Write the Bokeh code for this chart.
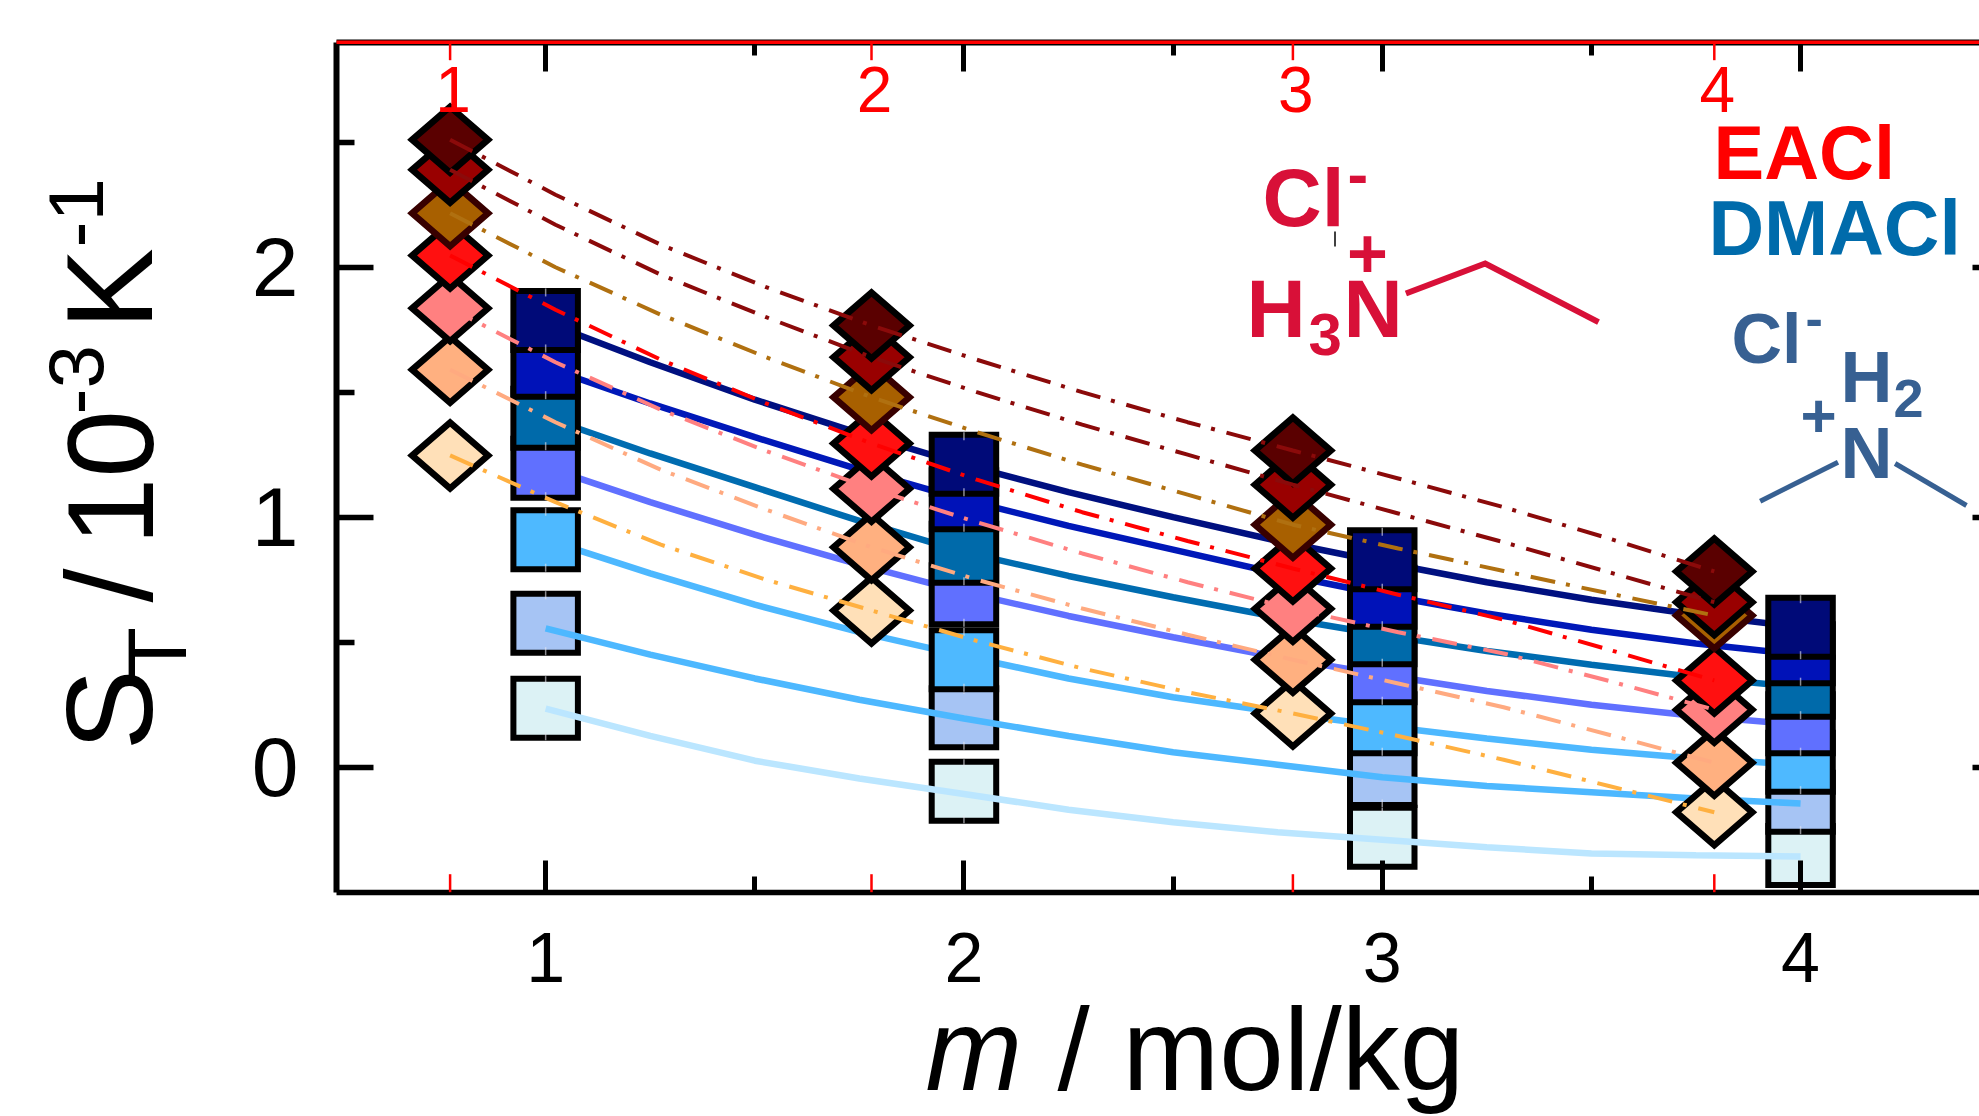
from bokeh.plotting import figure
from bokeh.models import Range1d, LinearAxis, Label, FixedTicker
from bokeh.embed import file_html
from bokeh.resources import INLINE
import math

FONT = "Liberation Sans"

# ---- data ----
m_dmaci = [1, 2, 3, 4]
m_eacl = [1, 2, 3, 4]
m_fit = [1, 1.25, 1.5, 1.75, 2, 2.25, 2.5, 2.75, 3, 3.25, 3.5, 3.75, 4]

# squares (DMACl), top series first
dm_1 = [1.787, 1.212, 0.83, 0.56]
dm_2 = [1.60, 1.07, 0.68, 0.454]
dm_3 = [1.396, 0.856, 0.53, 0.32]
dm_4 = [1.196, 0.69, 0.378, 0.174]
dm_5 = [0.91, 0.43, 0.174, 0.02]
dm_6 = [0.576, 0.198, -0.033, -0.14]
dm_7 = [0.236, -0.096, -0.28, -0.353]
dm_series = [dm_1, dm_2, dm_3, dm_4, dm_5, dm_6, dm_7]
dm_fill = ["#000a78", "#0012b8", "#006aaa", "#6070ff", "#4eb9ff", "#a6c4f4", "#dcf2f5"]

dmfit_1 = [1.78, 1.62, 1.47, 1.335, 1.21, 1.10, 1.0, 0.905, 0.82, 0.74, 0.67, 0.61, 0.56]
dmfit_2 = [1.60, 1.455, 1.32, 1.19, 1.07, 0.965, 0.87, 0.775, 0.69, 0.615, 0.55, 0.495, 0.45]
dmfit_3 = [1.40, 1.255, 1.12, 0.985, 0.86, 0.765, 0.68, 0.60, 0.53, 0.465, 0.41, 0.36, 0.32]
dmfit_4 = [1.20, 1.06, 0.93, 0.81, 0.70, 0.605, 0.52, 0.44, 0.37, 0.305, 0.25, 0.205, 0.17]
dmfit_5 = [0.91, 0.775, 0.65, 0.54, 0.445, 0.355, 0.28, 0.22, 0.165, 0.115, 0.07, 0.035, 0.01]
dmfit_6 = [0.555, 0.45, 0.355, 0.27, 0.195, 0.125, 0.06, 0.01, -0.04, -0.075, -0.10, -0.125, -0.145]
dmfit_7 = [0.234, 0.125, 0.026, -0.045, -0.107, -0.17, -0.22, -0.26, -0.29, -0.32, -0.345, -0.352, -0.357]
dmfit_series = [dmfit_1, dmfit_2, dmfit_3, dmfit_4, dmfit_5, dmfit_6, dmfit_7]
dmfit_color = ["#001080", "#0018b8", "#006cb0", "#6070ff", "#4db8ff", "#4db8ff", "#bbe6ff"]

# diamonds (EACl), top series first
ea_1 = [2.51, 1.767, 1.267, 0.783]
ea_2 = [2.39, 1.64, 1.13, 0.66]
ea_3 = [2.216, 1.48, 0.97, 0.607]
ea_4 = [2.047, 1.295, 0.795, 0.347]
ea_5 = [1.836, 1.114, 0.634, 0.23]
ea_6 = [1.59, 0.88, 0.43, 0.018]
ea_7 = [1.247, 0.627, 0.215, -0.18]
ea_series = [ea_1, ea_2, ea_3, ea_4, ea_5, ea_6, ea_7]
ea_fill = ["#5a0000", "#990000", "#a86000", "#ff1010", "#ff8080", "#ffb080", "#ffe0b8"]
ea_edge = ["#000000", "#000000", "#380000", "#000000", "#000000", "#000000", "#000000"]

eafit_1 = [2.51, 2.29, 2.09, 1.92, 1.767, 1.63, 1.50, 1.38, 1.267, 1.155, 1.04, 0.915, 0.783]
eafit_2 = [2.39, 2.17, 1.97, 1.80, 1.64, 1.50, 1.37, 1.25, 1.13, 1.015, 0.90, 0.78, 0.66]
eafit_3 = [2.216, 2.0, 1.81, 1.64, 1.48, 1.34, 1.21, 1.09, 0.97, 0.875, 0.785, 0.695, 0.607]
eafit_4 = [2.047, 1.83, 1.63, 1.455, 1.295, 1.15, 1.02, 0.905, 0.795, 0.69, 0.59, 0.47, 0.347]
eafit_5 = [1.836, 1.62, 1.43, 1.265, 1.114, 0.98, 0.855, 0.74, 0.634, 0.54, 0.455, 0.345, 0.23]
eafit_6 = [1.59, 1.38, 1.19, 1.03, 0.88, 0.75, 0.635, 0.53, 0.43, 0.335, 0.24, 0.13, 0.018]
eafit_7 = [1.247, 1.06, 0.89, 0.75, 0.627, 0.505, 0.395, 0.30, 0.215, 0.125, 0.03, -0.075, -0.18]
eafit_series = [eafit_1, eafit_2, eafit_3, eafit_4, eafit_5, eafit_6, eafit_7]
eafit_color = ["#8b0a0a", "#8b0a0a", "#b07010", "#ff0000", "#ff8080", "#ffaa80", "#ffb040"]

black_ticks = [1, 2, 3, 4]
black_minor = [1.5, 2.5, 3.5]
red_ticks = [1, 2, 3, 4]
y_ticks = [0, 1, 2]
y_minor = [0.5, 1.5, 2.5]

# ---- layout: the frame fills the page; axes sit at fixed data locations ----
W, H = 1979, 1116
L, T, B = 336.0, 41.7, 891.7
XU, YU, RU = 418.3, 250.0, 421.4
XLEFT, XRIGHT = 0.5, 4.5
YBOT, YTOP = -0.5, 2.9
RED1 = 449.6


def px(x):
    return XLEFT + (x - L) / XU


def py(y):
    return YTOP - (y - T) / YU


def prx(x):
    return 1 + (x - RED1) / RU


p = figure(width=W, height=H, output_backend="svg", toolbar_location=None,
           x_range=Range1d(px(0), px(W)), y_range=Range1d(py(H), py(0)),
           x_axis_location=None, y_axis_location=None,
           min_border_left=0, min_border_top=0, min_border_right=0, min_border_bottom=0,
           background_fill_color="white", border_fill_color="white")
p.extra_x_ranges["red"] = Range1d(prx(0), prx(W))
p.grid.visible = False
p.outline_line_color = None


def make_axis(where, loc, ticker, bounds, tin, mtin, lw=5.5, tw=5.5):
    ax = LinearAxis(ticker=ticker, fixed_location=loc, bounds=bounds)
    ax.major_tick_in = tin
    ax.major_tick_out = 0
    ax.minor_tick_in = mtin
    ax.minor_tick_out = 0
    ax.axis_line_width = lw
    ax.axis_line_color = "black"
    ax.major_tick_line_width = tw
    ax.minor_tick_line_width = tw
    ax.major_tick_line_color = "black"
    ax.minor_tick_line_color = "black"
    ax.major_label_text_font = FONT
    ax.major_label_text_color = "black"
    p.add_layout(ax, where)
    return ax


xticker = FixedTicker(ticks=black_ticks, minor_ticks=black_minor)
yticker = FixedTicker(ticks=y_ticks, minor_ticks=y_minor)

bx = make_axis("below", YBOT, xticker, (XLEFT, XRIGHT), 32, 16, tw=5)
bx.major_label_standoff = 41
bx.major_label_text_font_size = "70px"

ly = make_axis("left", XLEFT, yticker, (YBOT, YTOP), 37, 18, lw=6)
ly.major_label_standoff = 38
ly.major_label_text_font_size = "84px"

top = make_axis("above", YTOP, xticker, (XLEFT, XRIGHT), 29, 13, lw=6, tw=5)
top.major_label_text_color = None
top.major_label_text_font_size = "1px"

rgt = make_axis("right", XRIGHT, FixedTicker(ticks=y_ticks, minor_ticks=[]), (YBOT, YTOP), 37, 0)
rgt.major_label_text_color = None
rgt.major_label_text_font_size = "1px"

# boxes and solid fits: the two palest fits run over their boxes, the others under
BOX_W, BOX_H = 64.5, 59


def boxes(i):
    p.rect(m_dmaci, dm_series[i], width=BOX_W, height=BOX_H, width_units="screen", height_units="screen",
           fill_color=dm_fill[i], line_color="black", line_width=6, line_join="miter")
    # short pale error-bar stubs at the top and bottom of each box
    for sign in (1, -1):
        y0 = [v + sign * 32 / YU for v in dm_series[i]]
        y1 = [v + sign * 24 / YU for v in dm_series[i]]
        p.segment(m_dmaci, y0, m_dmaci, y1, line_color="#e8e8f0", line_alpha=0.6, line_width=1.5)


for i in (6, 5):
    boxes(i)
for i in (6, 5):
    p.line(m_fit, dmfit_series[i], line_color=dmfit_color[i], line_width=6.5)
for i in (0, 1, 2, 3, 4):
    p.line(m_fit, dmfit_series[i], line_color=dmfit_color[i], line_width=6.5)
for i in (4, 3, 2, 1, 0):
    boxes(i)

# diamonds, lowest series first
DX, DY = 38.0 / RU, 33.0 / YU
for i in (6, 5, 4, 3, 2, 1, 0):
    xs = [[x - DX, x, x + DX, x] for x in m_eacl]
    ys = [[y, y + DY, y, y - DY] for y in ea_series[i]]
    p.patches(xs, ys, x_range_name="red", fill_color=ea_fill[i], line_color=ea_edge[i],
              line_width=6.5, line_join="miter")

# dash-dot fits on top of everything
for i in range(7):
    p.line(m_fit, eafit_series[i], x_range_name="red", line_color=eafit_color[i],
           line_width=4, line_dash="25 11 4 12")

# red axis: line along the top, ticks inward on top and bottom, labels inside
p.segment([prx(L)], [YTOP], [prx(W)], [YTOP], x_range_name="red", line_color="#ff0000",
          line_width=3.5, level="annotation")
red_len = 18.0 / YU
p.segment(red_ticks, [YTOP] * 4, red_ticks, [YTOP - red_len] * 4, x_range_name="red",
          line_color="#ff0000", line_width=2.5, level="annotation")
p.segment(red_ticks, [YBOT] * 4, red_ticks, [YBOT + red_len] * 4, x_range_name="red",
          line_color="#ff0000", line_width=2.5, level="annotation")

K = 0.33  # the renderer sets "alphabetic" text lower than its anchor by this share of the size


def label(t, x, y, size, color="black", bold=False, italic=False, angle=0.0, align="left"):
    style_ = "bold" if bold else ("italic" if italic else "normal")
    if angle:
        x = x - K * size
    else:
        y = y - K * size
    p.add_layout(Label(x=px(x), y=py(y), text=t, text_font=FONT, text_font_size=f"{size}px",
                       text_color=color, text_font_style=style_, angle=angle, angle_units="rad",
                       text_align=align, text_baseline="alphabetic"))


for t in red_ticks:
    label(str(t), RED1 + (t - 1) * RU + 3, 110, 64, "#ff0000", align="center")

# axis titles
HALF = math.pi / 2
label("S", 150, 750, 122, angle=HALF)
label("T", 184, 678, 84, angle=HALF)
label("/", 150, 602, 122, angle=HALF)
label("10", 150, 545, 122, angle=HALF)
label("-3", 101, 414, 78, angle=HALF)
label("K", 150, 329, 122, angle=HALF)
label("-1", 101, 247, 78, angle=HALF)
label("m", 925, 1088, 116, italic=True)
label("/", 1057, 1088, 116)
label("mol/kg", 1122, 1088, 116)

# legend and structures
RED_S = "#d81038"
BLU_S = "#376092"
label("EACl", 1713, 177, 76, "#ff0000", bold=True)
label("DMACl", 1708, 253, 77, "#006bab", bold=True)

label("Cl", 1262, 224, 82, RED_S, bold=True)
label("-", 1347, 194, 62, RED_S, bold=True)
label("+", 1367, 276, 70, RED_S, bold=True, align="center")
label("H", 1246, 335, 82, RED_S, bold=True)
label("3", 1308, 354, 60, RED_S, bold=True)
label("N", 1343, 335, 82, RED_S, bold=True)
p.line([px(1405.4), px(1484.7), px(1598)], [py(293), py(263), py(321.7)], line_color=RED_S, line_width=6, line_join="miter")
p.line([px(1334.5), px(1334.5)], [py(231), py(246)], line_color="black", line_width=1.5)

label("Cl", 1731, 362, 70, BLU_S, bold=True)
label("-", 1805, 335, 52, BLU_S, bold=True)
label("H", 1840, 400, 72, BLU_S, bold=True)
label("2", 1893, 416, 54, BLU_S, bold=True)
label("+", 1818, 436, 62, BLU_S, bold=True, align="center")
label("N", 1840, 476, 72, BLU_S, bold=True)
p.line([px(1759.7), px(1837.5)], [py(500.7), py(461.7)], line_color=BLU_S, line_width=5)
p.line([px(1894.6), px(1966)], [py(463), py(505)], line_color=BLU_S, line_width=5)

open("out.html", "w").write(file_html(p, INLINE))
